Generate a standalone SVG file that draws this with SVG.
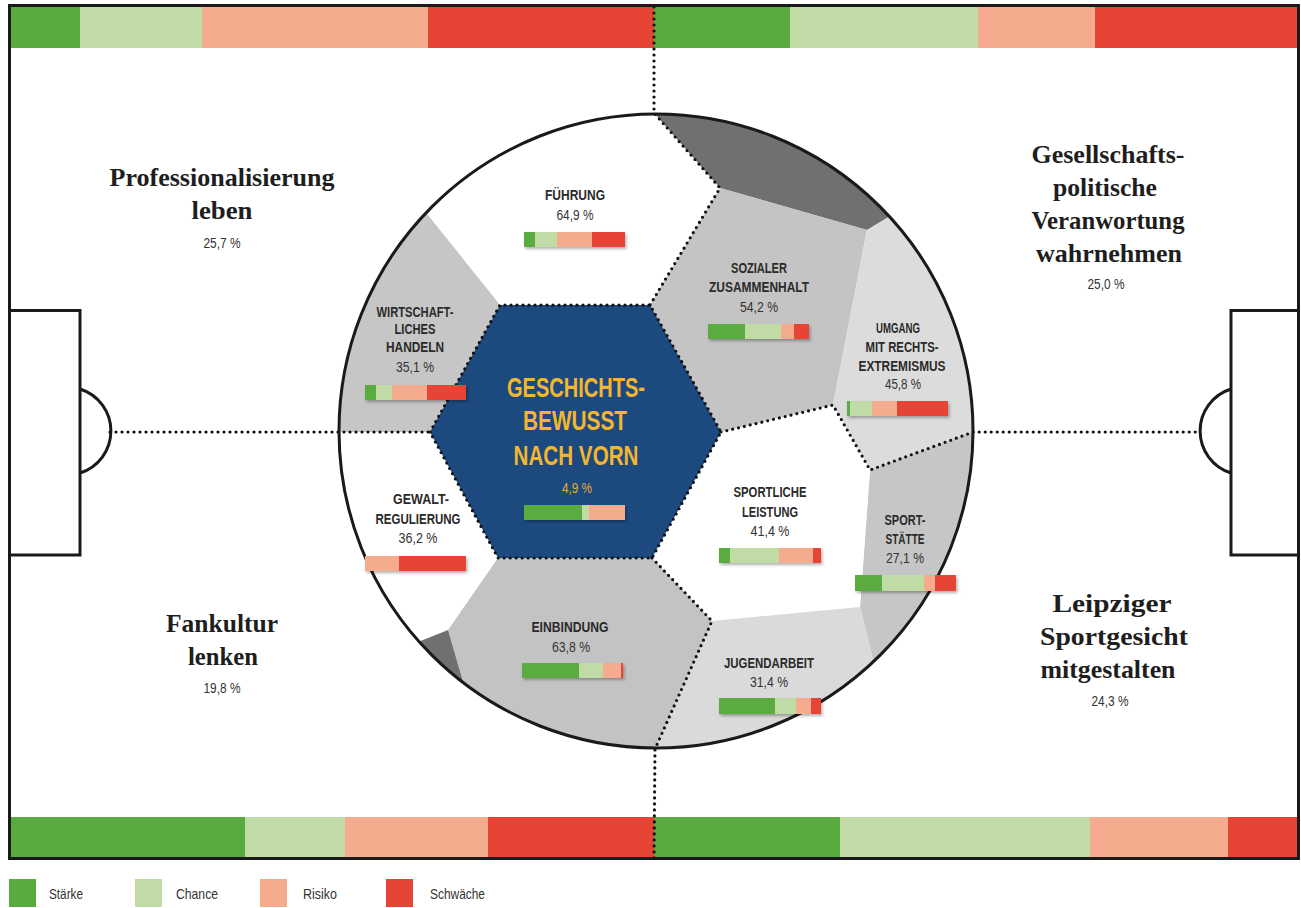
<svg xmlns="http://www.w3.org/2000/svg" width="1301" height="908" viewBox="0 0 1301 908">
<defs>
<style>
.g{fill:#5aab3f}.lg{fill:#c0dba5}.s{fill:#f5ab8e}.r{fill:#e64535}
.dot{fill:none;stroke:#111;stroke-width:3.2;stroke-linecap:round;stroke-dasharray:0 6}
.line{fill:none;stroke:#1a1a1a;stroke-width:3}
.lab{font-family:"Liberation Sans Narrow","Liberation Sans",sans-serif;font-weight:bold;font-size:14px;fill:#2a2a2a;text-anchor:middle}
.pct{font-family:"Liberation Sans Narrow","Liberation Sans",sans-serif;font-size:14px;fill:#333;text-anchor:middle}
.ttl{font-family:"Liberation Serif",serif;font-weight:bold;font-size:26px;fill:#1e1e1e;text-anchor:middle}
.hex{font-family:"Liberation Sans Narrow","Liberation Sans",sans-serif;font-weight:bold;font-size:28px;fill:#f2b630;text-anchor:middle}
.leg{font-family:"Liberation Sans Narrow","Liberation Sans",sans-serif;font-size:15px;fill:#333}
</style>
<clipPath id="ball"><circle cx="656" cy="431" r="317"/></clipPath>
<filter id="sh" x="-10%" y="-40%" width="130%" height="200%"><feDropShadow dx="1.5" dy="2" stdDeviation="1.5" flood-color="#000" flood-opacity="0.3"/></filter>
</defs>
<rect width="1301" height="908" fill="#fff"/>
<g id="field">
<rect x="10" y="7" width="70" height="41" class="g"/>
<rect x="80" y="7" width="122" height="41" class="lg"/>
<rect x="202" y="7" width="226" height="41" class="s"/>
<rect x="428" y="7" width="226" height="41" class="r"/>
<rect x="654" y="7" width="136" height="41" class="g"/>
<rect x="790" y="7" width="188" height="41" class="lg"/>
<rect x="978" y="7" width="117" height="41" class="s"/>
<rect x="1095" y="7" width="204" height="41" class="r"/>
<rect x="10" y="817" width="235" height="41" class="g"/>
<rect x="245" y="817" width="100" height="41" class="lg"/>
<rect x="345" y="817" width="143" height="41" class="s"/>
<rect x="488" y="817" width="166" height="41" class="r"/>
<rect x="654" y="817" width="186" height="41" class="g"/>
<rect x="840" y="817" width="250" height="41" class="lg"/>
<rect x="1090" y="817" width="138" height="41" class="s"/>
<rect x="1228" y="817" width="71" height="41" class="r"/>
<rect x="9.5" y="5.5" width="1289" height="853" class="line"/>
<path class="line" d="M9.5 310.5H80V555H9.5M80 389A44 44 0 0 1 80 473"/>
<path class="line" d="M1298.5 310.5H1231V555H1298.5M1231 389A44 44 0 0 0 1231 473"/>
</g>
<g id="ball-panels" clip-path="url(#ball)">
<circle cx="656" cy="431" r="317" fill="#fff"/>
<polygon points="500,305 380,155 300,155 300,432 430,432" fill="#c6c6c6"/>
<polygon points="625,80 720,188 867,230 950,180 950,80" fill="#707070"/>
<polygon points="720,188 867,230 833,405 721,432 650,305" fill="#c4c4c4"/>
<polygon points="867,230 950,180 1030,180 1030,411 870,470 833,405" fill="#dcdcdc"/>
<polygon points="870,470 1030,411 1030,740 893,740 873,660 860,607" fill="#c6c6c6"/>
<polygon points="721,432 833,405 870,470 860,607 712,621 652,558" fill="#fff"/>
<polygon points="712,621 860,607 873,660 893,740 900,800 632,800" fill="#dadada"/>
<polygon points="498,558 652,558 712,621 632,800 480,800 480,740 462,678 448,630" fill="#c3c3c3"/>
<polygon points="448,630 398,650 400,760 480,740" fill="#707070"/>
<polygon points="430,432 500,305 650,305 721,432 652,558 498,558" fill="#1d4a7e"/>
</g>
<g id="connectors">
<path class="dot" d="M654 7V113L720 188L650 305"/>
<polygon class="dot" points="430,432 500,305 650,305 721,432 652,558 498,558"/>
<path class="dot" d="M721 432L833 405L870 470L973 432H1201"/>
<path class="dot" d="M110 432H430"/>
<path class="dot" d="M652 558L712 621L655 749L654 858"/>
</g>
<circle cx="656" cy="431" r="317" class="line"/>
<g id="node-fuehrung">
<text class="lab" x="575" y="200" textLength="60" lengthAdjust="spacingAndGlyphs">FÜHRUNG</text>
<text class="pct" x="575" y="220" textLength="37" lengthAdjust="spacingAndGlyphs">64,9 %</text>
<g filter="url(#sh)"><rect x="524" y="232" width="11" height="15" class="g"/><rect x="535" y="232" width="22" height="15" class="lg"/><rect x="557" y="232" width="35" height="15" class="s"/><rect x="592" y="232" width="33" height="15" class="r"/></g>
</g>
<g id="node-wirtschaft">
<text class="lab" x="415" y="317" textLength="77" lengthAdjust="spacingAndGlyphs">WIRTSCHAFT-</text>
<text class="lab" x="415" y="334" textLength="41" lengthAdjust="spacingAndGlyphs">LICHES</text>
<text class="lab" x="415" y="352" textLength="58" lengthAdjust="spacingAndGlyphs">HANDELN</text>
<text class="pct" x="415" y="372" textLength="38" lengthAdjust="spacingAndGlyphs">35,1 %</text>
<g filter="url(#sh)"><rect x="365" y="385" width="11" height="15" class="g"/><rect x="376" y="385" width="16" height="15" class="lg"/><rect x="392" y="385" width="35" height="15" class="s"/><rect x="427" y="385" width="39" height="15" class="r"/></g>
</g>
<g id="node-sozial">
<text class="lab" x="759" y="273" textLength="56" lengthAdjust="spacingAndGlyphs">SOZIALER</text>
<text class="lab" x="759" y="292" textLength="100" lengthAdjust="spacingAndGlyphs">ZUSAMMENHALT</text>
<text class="pct" x="759" y="312" textLength="38" lengthAdjust="spacingAndGlyphs">54,2 %</text>
<g filter="url(#sh)"><rect x="708" y="324" width="37" height="15" class="g"/><rect x="745" y="324" width="36" height="15" class="lg"/><rect x="781" y="324" width="13" height="15" class="s"/><rect x="794" y="324" width="15" height="15" class="r"/></g>
</g>
<g id="node-umgang">
<text class="lab" x="898" y="333" textLength="44" lengthAdjust="spacingAndGlyphs">UMGANG</text>
<text class="lab" x="902" y="352" textLength="73" lengthAdjust="spacingAndGlyphs">MIT RECHTS-</text>
<text class="lab" x="902" y="371" textLength="87" lengthAdjust="spacingAndGlyphs">EXTREMISMUS</text>
<text class="pct" x="903" y="389" textLength="36" lengthAdjust="spacingAndGlyphs">45,8 %</text>
<g filter="url(#sh)"><rect x="847" y="401" width="3" height="15" class="g"/><rect x="850" y="401" width="22" height="15" class="lg"/><rect x="872" y="401" width="25" height="15" class="s"/><rect x="897" y="401" width="51" height="15" class="r"/></g>
</g>
<g id="node-leistung">
<text class="lab" x="770" y="497" textLength="73" lengthAdjust="spacingAndGlyphs">SPORTLICHE</text>
<text class="lab" x="770" y="517" textLength="56" lengthAdjust="spacingAndGlyphs">LEISTUNG</text>
<text class="pct" x="770" y="536" textLength="39" lengthAdjust="spacingAndGlyphs">41,4 %</text>
<g filter="url(#sh)"><rect x="719" y="548" width="11" height="15" class="g"/><rect x="730" y="548" width="49" height="15" class="lg"/><rect x="779" y="548" width="34" height="15" class="s"/><rect x="813" y="548" width="8" height="15" class="r"/></g>
</g>
<g id="node-sportstaette">
<text class="lab" x="905" y="525" textLength="41" lengthAdjust="spacingAndGlyphs">SPORT-</text>
<text class="lab" x="905" y="544" textLength="39" lengthAdjust="spacingAndGlyphs">STÄTTE</text>
<text class="pct" x="905" y="563" textLength="38" lengthAdjust="spacingAndGlyphs">27,1 %</text>
<g filter="url(#sh)"><rect x="855" y="575" width="27" height="16" class="g"/><rect x="882" y="575" width="42" height="16" class="lg"/><rect x="924" y="575" width="11" height="16" class="s"/><rect x="935" y="575" width="21" height="16" class="r"/></g>
</g>
<g id="node-jugend">
<text class="lab" x="769" y="668" textLength="90" lengthAdjust="spacingAndGlyphs">JUGENDARBEIT</text>
<text class="pct" x="769" y="687" textLength="38" lengthAdjust="spacingAndGlyphs">31,4 %</text>
<g filter="url(#sh)"><rect x="719" y="698" width="56" height="16" class="g"/><rect x="775" y="698" width="21" height="16" class="lg"/><rect x="796" y="698" width="15" height="16" class="s"/><rect x="811" y="698" width="10" height="16" class="r"/></g>
</g>
<g id="node-gewalt">
<text class="lab" x="421" y="504" textLength="56" lengthAdjust="spacingAndGlyphs">GEWALT-</text>
<text class="lab" x="418" y="524" textLength="85" lengthAdjust="spacingAndGlyphs">REGULIERUNG</text>
<text class="pct" x="418" y="543" textLength="39" lengthAdjust="spacingAndGlyphs">36,2 %</text>
<g filter="url(#sh)"><rect x="365" y="556" width="34" height="15" class="s"/><rect x="399" y="556" width="67" height="15" class="r"/></g>
</g>
<g id="node-einbindung">
<text class="lab" x="570" y="632" textLength="77" lengthAdjust="spacingAndGlyphs">EINBINDUNG</text>
<text class="pct" x="571" y="652" textLength="38" lengthAdjust="spacingAndGlyphs">63,8 %</text>
<g filter="url(#sh)"><rect x="522" y="663" width="57" height="15" class="g"/><rect x="579" y="663" width="24" height="15" class="lg"/><rect x="603" y="663" width="18" height="15" class="s"/><rect x="621" y="663" width="2" height="15" class="r"/></g>
</g>
<g id="node-center">
<text class="hex" x="576" y="397" textLength="138" lengthAdjust="spacingAndGlyphs">GESCHICHTS-</text>
<text class="hex" x="575" y="430" textLength="104" lengthAdjust="spacingAndGlyphs">BEWUSST</text>
<text class="hex" x="576" y="465" textLength="125" lengthAdjust="spacingAndGlyphs">NACH VORN</text>
<text class="pct" x="577" y="493" textLength="30" lengthAdjust="spacingAndGlyphs" style="fill:#e8a838">4,9 %</text>
<g filter="url(#sh)"><rect x="524" y="505" width="58" height="15" class="g"/><rect x="582" y="505" width="7" height="15" class="lg"/><rect x="589" y="505" width="36" height="15" class="s"/></g>
</g>
<g id="node-professionalisierung">
<text class="ttl" x="222" y="186" textLength="225" lengthAdjust="spacingAndGlyphs">Professionalisierung</text>
<text class="ttl" x="222" y="219" textLength="61" lengthAdjust="spacingAndGlyphs">leben</text>
<text class="pct" x="222" y="248" textLength="37" lengthAdjust="spacingAndGlyphs">25,7 %</text>
</g>
<g id="node-gesellschaft">
<text class="ttl" x="1108" y="163" textLength="153" lengthAdjust="spacingAndGlyphs">Gesellschafts-</text>
<text class="ttl" x="1105" y="196" textLength="104" lengthAdjust="spacingAndGlyphs">politische</text>
<text class="ttl" x="1108" y="229" textLength="153" lengthAdjust="spacingAndGlyphs">Veranwortung</text>
<text class="ttl" x="1109" y="262" textLength="146" lengthAdjust="spacingAndGlyphs">wahrnehmen</text>
<text class="pct" x="1106" y="289" textLength="37" lengthAdjust="spacingAndGlyphs">25,0 %</text>
</g>
<g id="node-fankultur">
<text class="ttl" x="222" y="632" textLength="112" lengthAdjust="spacingAndGlyphs">Fankultur</text>
<text class="ttl" x="223" y="665" textLength="70" lengthAdjust="spacingAndGlyphs">lenken</text>
<text class="pct" x="222" y="693" textLength="37" lengthAdjust="spacingAndGlyphs">19,8 %</text>
</g>
<g id="node-leipzig">
<text class="ttl" x="1112" y="612" textLength="119" lengthAdjust="spacingAndGlyphs">Leipziger</text>
<text class="ttl" x="1114" y="645" textLength="148" lengthAdjust="spacingAndGlyphs">Sportgesicht</text>
<text class="ttl" x="1108" y="678" textLength="135" lengthAdjust="spacingAndGlyphs">mitgestalten</text>
<text class="pct" x="1110" y="706" textLength="37" lengthAdjust="spacingAndGlyphs">24,3 %</text>
</g>
<g id="legend">
<rect x="9" y="879" width="27" height="28" class="g"/><text class="leg" x="49" y="899" textLength="34" lengthAdjust="spacingAndGlyphs">Stärke</text>
<rect x="135" y="879" width="27" height="28" class="lg"/><text class="leg" x="176" y="899" textLength="42" lengthAdjust="spacingAndGlyphs">Chance</text>
<rect x="260" y="879" width="27" height="28" class="s"/><text class="leg" x="303" y="899" textLength="34" lengthAdjust="spacingAndGlyphs">Risiko</text>
<rect x="386" y="879" width="27" height="28" class="r"/><text class="leg" x="430" y="899" textLength="55" lengthAdjust="spacingAndGlyphs">Schwäche</text>
</g>
</svg>
